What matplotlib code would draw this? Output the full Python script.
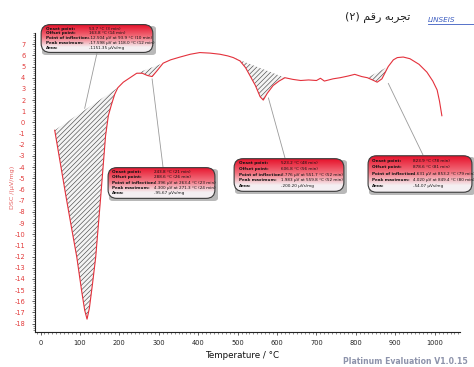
import numpy as np
import matplotlib
matplotlib.use("Agg")
import matplotlib.pyplot as plt
from matplotlib.patches import FancyBboxPatch
from matplotlib.ticker import MultipleLocator

# ---------------- data ----------------
temperature = [36, 50, 64, 78, 92, 104, 112, 118, 124, 132, 140, 153, 165, 172, 180, 188, 196,
               210, 227, 244, 258, 271, 283, 295, 311, 330, 354, 380, 404, 430, 455, 475, 489,
               506, 520, 531, 545, 557, 565, 575, 590, 605, 620, 640, 660, 680, 700, 710, 720,
               742, 760, 780, 797, 815, 829, 842, 854, 866, 882, 895, 905, 920, 937, 960, 980,
               995, 1006, 1012, 1018]
dsc = [-0.7, -3.6, -6.5, -9.3, -12.05, -15.0, -16.8, -17.6, -16.6, -14.4, -12.05, -6.5, -1.2, 0.6,
       1.6, 2.5, 3.1, 3.6, 4.0, 4.4, 4.4, 4.2, 4.1, 4.6, 5.3, 5.6, 5.85, 6.1, 6.25, 6.2, 6.1, 5.95,
       5.8, 5.5, 4.9, 4.2, 3.3, 2.3, 2.0, 2.6, 3.3, 3.7, 4.0, 3.85, 3.75, 3.8, 3.75, 3.95, 3.7, 3.9,
       4.0, 4.15, 4.3, 4.1, 4.0, 3.8, 3.6, 3.9, 5.0, 5.6, 5.8, 5.85, 5.7, 5.2, 4.5, 3.7, 2.9, 1.9, 0.6]

peak_start = [36, 244, 489, 829]
peak_end = [196, 311, 620, 882]

box_labels = ["Onset point:", "Offset point:", "Point of inflection:", "Peak maximum:", "Area:"]
box_values = [
    ["53.7 °C (3 min)", "163.8 °C (14 min)", "-12.504 µV at 93.9 °C (10 min)",
     "-17.598 µV at 118.0 °C (12 min)", "-1151.35 µVs/mg"],
    ["243.8 °C (21 min)", "288.6 °C (26 min)", "4.396 µV at 263.4 °C (23 min)",
     "4.300 µV at 271.3 °C (24 min)", "-95.67 µVs/mg"],
    ["523.2 °C (48 min)", "606.8 °C (56 min)", "3.776 µV at 551.7 °C (52 min)",
     "1.983 µV at 559.8 °C (52 min)", "-200.20 µVs/mg"],
    ["823.9 °C (78 min)", "878.6 °C (81 min)", "4.631 µV at 853.2 °C (79 min)",
     "4.020 µV at 849.4 °C (80 min)", "-54.07 µVs/mg"],
]

x_ticks = list(range(0, 1001, 100))
y_ticks = list(range(-18, 8))

title_text = "(٢) ﻢﻗﺭ ﻪﺑﺮﺠﺗ"   # visual-order presentation forms of "تجربه رقم (٢)"

# ---------------- figure ----------------
W, H = 474, 367
fig = plt.figure(figsize=(W / 100, H / 100), dpi=100)
fig.patch.set_facecolor("white")


def fx(px):
    return px / W


def fy(py):
    return 1 - py / H


ax = fig.add_axes([fx(35), fy(332), fx(460) - fx(35), fy(33) - fy(332)])
ax.set_xlim(-14, 1064)
ax.set_ylim(-18.75, 8)

T = np.array(temperature, dtype=float)
Y = np.array(dsc, dtype=float)

plt.rcParams["hatch.linewidth"] = 0.45
for s, e in zip(peak_start, peak_end):
    m = (T >= s) & (T <= e)
    ts = T[m]
    ys = Y[m]
    b0 = np.interp(s, T, Y)
    b1 = np.interp(e, T, Y)
    base = b0 + (b1 - b0) * (ts - s) / (e - s)
    ax.fill_between(ts, ys, base, facecolor="#f4f4f4", edgecolor="#4a4a4a",
                    hatch="///////", linewidth=0, zorder=2)

ax.plot(T, Y, color="#e4313c", lw=0.8, zorder=3)

for sp in ["top", "right"]:
    ax.spines[sp].set_visible(False)
for sp in ["left", "bottom"]:
    ax.spines[sp].set_linewidth(0.8)
    ax.spines[sp].set_color("#222222")

ax.set_xticks(x_ticks)
ax.set_xticklabels([str(v) for v in x_ticks])
ax.set_yticks(y_ticks)
ax.set_yticklabels([str(v) for v in y_ticks])
ax.xaxis.set_minor_locator(MultipleLocator(10))
ax.yaxis.set_minor_locator(MultipleLocator(0.2))
ax.tick_params(axis="x", which="major", length=2, width=0.5, labelsize=4.8,
               colors="#222222", pad=4)
ax.tick_params(axis="x", which="minor", length=1.2, width=0.4, colors="#333333")
ax.tick_params(axis="y", which="major", length=2, width=0.5, labelsize=4.8,
               colors="#222222", labelcolor="#e23a3a", pad=5)
ax.tick_params(axis="y", which="minor", length=1.2, width=0.4, colors="#333333")

fig.text(fx(242), fy(355), "Temperature / °C", fontsize=6.3, ha="center", va="center",
         color="#111111")
fig.text(fx(13), fy(187), "DSC /(µV/mg)", fontsize=4.6, rotation=90, ha="center",
         va="center", color="#e56060")

fig.text(fx(378), fy(17), title_text, fontsize=8, ha="center", va="center",
         color="#222222", family=["DejaVu Sans"])
fig.text(fx(428), fy(20), "LINSEIS", fontsize=5.2, style="italic", ha="left",
         va="center", color="#3a5bc0")
fig.add_artist(plt.Line2D([fx(428), fx(474)], [fy(24), fy(24)], color="#3a5bc0", lw=0.6))
fig.text(fx(343), fy(361), "Platinum Evaluation V1.0.15", fontsize=5.6, weight="bold",
         ha="left", va="center", color="#8d93ab")

# ---------------- annotation boxes ----------------
boxes_px = [(40, 24, 154, 53), (107, 167, 216, 199), (233, 158, 345, 192), (367, 155, 473, 193)]
leader_xy = [(112, 1.25), (283, 3.9), (578, 2.2), (882, 3.5)]
leader_px = [(97, 53), (163, 167), (285, 158), (423, 155)]

grad = np.linspace(0, 1, 100)[:, None]
top = np.array([0.90, 0.05, 0.15])
mid = np.array([0.95, 0.45, 0.50])
bot = np.array([0.96, 0.94, 0.95])
img = np.zeros((100, 1, 3))
for i, g in enumerate(grad[:, 0]):
    if g < 0.45:
        c = top + (mid - top) * (g / 0.45)
    else:
        c = mid + (bot - mid) * min(1, (g - 0.45) / 0.35)
    img[i, 0] = c

for k, (x0, y0, x1, y1) in enumerate(boxes_px):
    # leader line
    ax.annotate("", xy=leader_xy[k], xycoords="data",
                xytext=(fx(leader_px[k][0]), fy(leader_px[k][1])), textcoords="figure fraction",
                arrowprops=dict(arrowstyle="-", color="#9a9a9a", lw=0.6, shrinkA=0, shrinkB=0),
                zorder=1)
    # shadow
    sh = FancyBboxPatch((fx(x0 + 2), fy(y1 + 2)), fx(x1) - fx(x0), fy(y0) - fy(y1),
                        boxstyle="round,pad=0,rounding_size=0.008", transform=fig.transFigure,
                        facecolor="#9a9a9a", edgecolor="none", alpha=0.7, zorder=4)
    fig.add_artist(sh)
    bax = fig.add_axes([fx(x0), fy(y1), fx(x1) - fx(x0), fy(y0) - fy(y1)])
    bax.set_xlim(0, 1)
    bax.set_ylim(0, 1)
    bax.axis("off")
    bax.set_zorder(5)
    clip = FancyBboxPatch((0.01, 0.02), 0.98, 0.96,
                          boxstyle="round,pad=0,rounding_size=0.08",
                          transform=bax.transAxes, facecolor="none",
                          edgecolor="#3a3a3a", lw=0.8, mutation_aspect=(x1 - x0) / (y1 - y0))
    bax.add_patch(clip)
    im = bax.imshow(img, extent=[0, 1, 0, 1], aspect="auto", origin="upper", zorder=0)
    im.set_clip_path(clip)
    for j, (lab, val) in enumerate(zip(box_labels, box_values[k])):
        yy = 0.84 - j * 0.165
        bax.text(0.05, yy, lab, fontsize=3.0, weight="bold", ha="left", va="center",
                 color="#111111")
        bax.text(0.43, yy, val, fontsize=3.0, ha="left", va="center", color="#111111")

fig.savefig("out.png", dpi=100)
